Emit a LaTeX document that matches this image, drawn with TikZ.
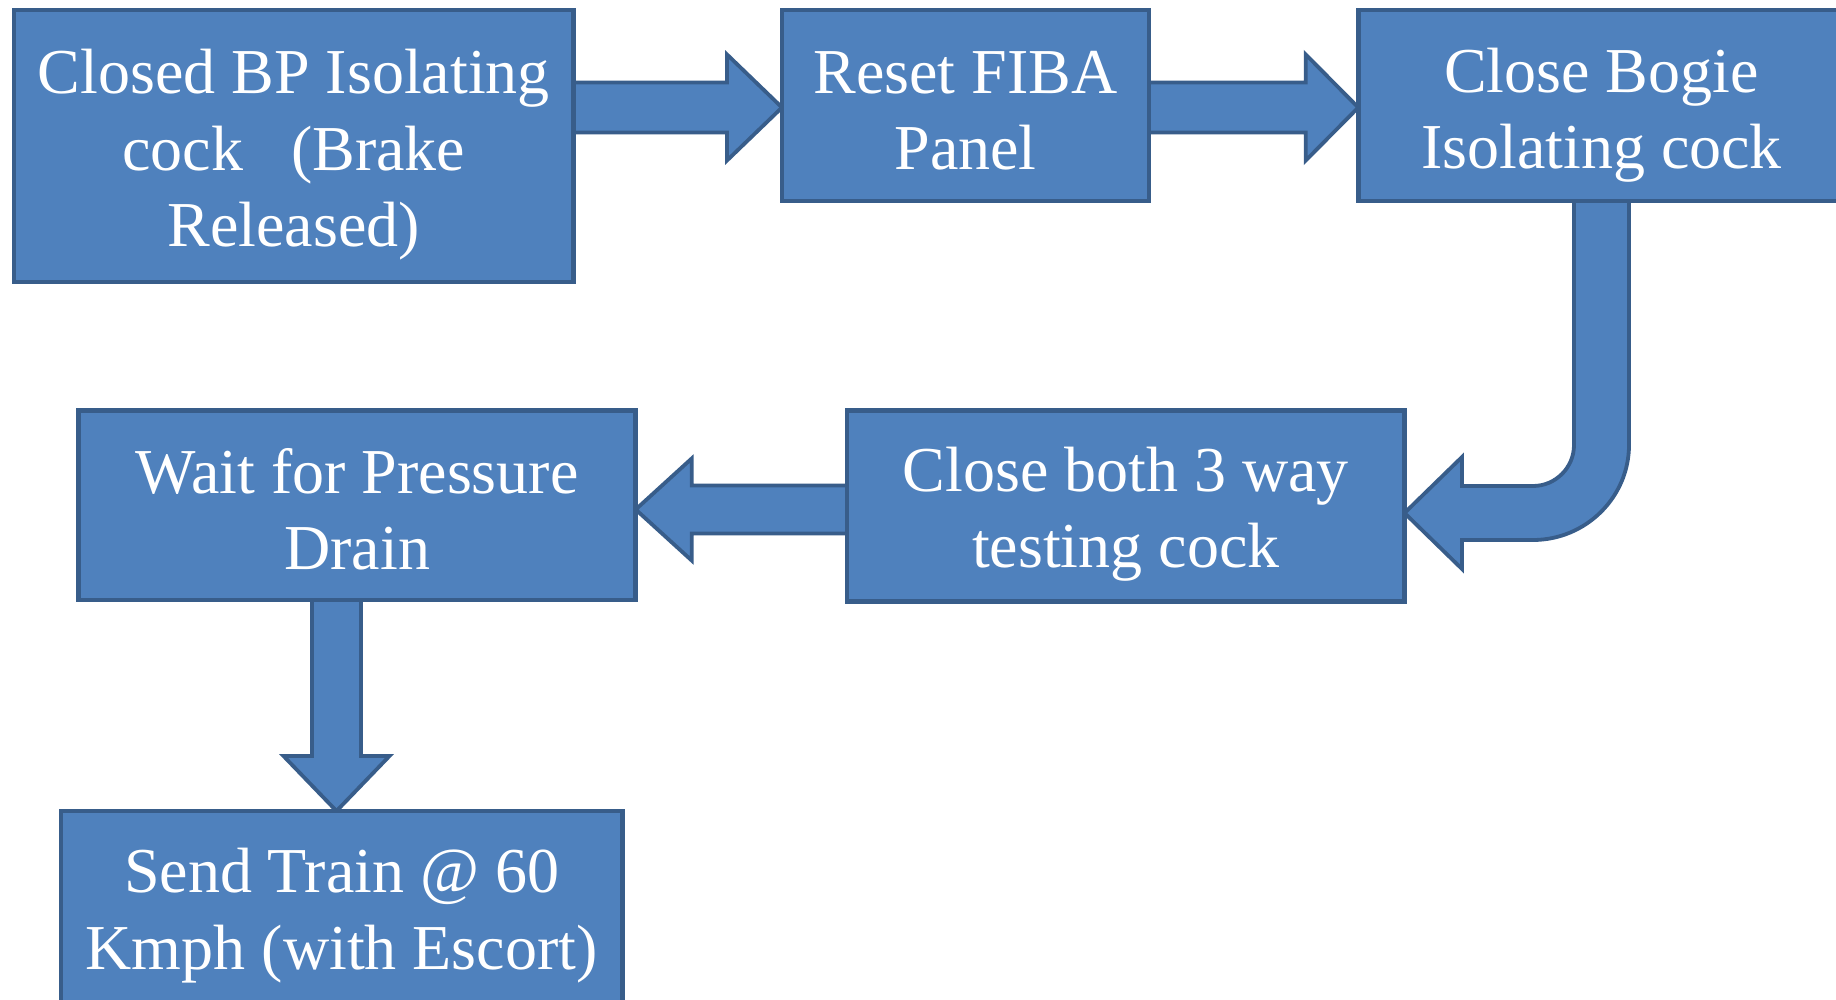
\documentclass[tikz,border=0pt]{standalone}
\usepackage{fontspec}
\setmainfont{Liberation Serif}
\usetikzlibrary{calc}
\definecolor{boxfill}{HTML}{4F81BD}
\definecolor{boxline}{HTML}{385D8A}
\pgfdeclarelayer{back}
\pgfdeclarelayer{bg}
\pgfsetlayers{back,bg,main}
\tikzset{
  box/.style={rectangle, draw=boxline, fill=boxfill, line width=2.25pt, inner sep=0pt, outer sep=0pt},
  txt/.style={text=white, align=center, inner sep=0pt, font=\fontsize{32pt}{38.25pt}\selectfont},
  blockarrow/.style={draw=boxline, fill=boxfill, line width=1.9pt, line join=miter}
}
% block arrows: tail, tip, shaft half, head half, head length
\newcommand\barrowR[5]{\draw[blockarrow] ($(#1)+(0,-#3)$) -- ($(#2)+(-#5,-#3)$) -- ($(#2)+(-#5,-#4)$) -- (#2) -- ($(#2)+(-#5,#4)$) -- ($(#2)+(-#5,#3)$) -- ($(#1)+(0,#3)$) -- cycle;}
\newcommand\barrowL[5]{\draw[blockarrow] ($(#1)+(0,-#3)$) -- ($(#2)+(#5,-#3)$) -- ($(#2)+(#5,-#4)$) -- (#2) -- ($(#2)+(#5,#4)$) -- ($(#2)+(#5,#3)$) -- ($(#1)+(0,#3)$) -- cycle;}
\newcommand\barrowD[5]{\draw[blockarrow] ($(#1)+(-#3,0)$) -- ($(#2)+(-#3,-#5)$) -- ($(#2)+(-#4,-#5)$) -- (#2) -- ($(#2)+(#4,-#5)$) -- ($(#2)+(#3,-#5)$) -- ($(#1)+(#3,0)$) -- cycle;}
\begin{document}
\begin{tikzpicture}[x=0.5pt,y=-0.5pt]
\clip (0,0) rectangle (1836,1000);
\begin{pgfonlayer}{back}
\fill[white] (0,0) rectangle (1836,1000);
\end{pgfonlayer}

\node[box, minimum width=279.75pt, minimum height=136pt,
  label={[txt,yshift=-4.5pt]center:{Closed BP Isolating\\cock\ \ \ (Brake\\Released)}}] (b1) at (293.75,146) {};
\node[box, minimum width=183.5pt, minimum height=95.5pt,
  label={[txt,yshift=-2.5pt]center:{Reset FIBA\\Panel}}] (b2) at (965.5,105.5) {};
\node[box, minimum width=243.25pt, minimum height=95.5pt,
  label={[txt,yshift=-4.8pt]center:{Close Bogie\\Isolating cock}}] (b3) at (1601.5,105.5) {};
\node[box, minimum width=278.75pt, minimum height=95.3pt,
  label={[txt,yshift=-4pt]center:{Close both 3 way\\testing cock}}] (b4) at (1125.75,506) {};
\node[box, minimum width=278.5pt, minimum height=94.75pt,
  label={[txt,yshift=-2pt]center:{Wait for Pressure\\Drain}}] (b5) at (357.2,505.3) {};
\node[box, minimum width=280.7pt, minimum height=95.5pt,
  label={[txt,yshift=-4.5pt]center:{Send Train @ 60\\Kmph (with Escort)}}] (b6) at (341.7,906.5) {};

\coordinate (h1) at (0,107.5);
\coordinate (h3) at (0,513);
\coordinate (h4) at (0,509.5);
\coordinate (v5) at (336.5,0);
\coordinate (c3) at (1533,445);

\begin{pgfonlayer}{bg}
\barrowR{b1.east |- h1}{b2.west |- h1}{25}{53}{55}
\barrowR{b2.east |- h1}{b3.west |- h1}{25}{53}{52.5}
\barrowL{b4.west |- h4}{b5.east |- h4}{24}{51}{56}
\barrowD{v5 |- b5.south}{v5 |- b6.north}{24.5}{53}{55}
\draw[blockarrow] ($(b3.south)+(-27.5,0)$) -- ($(c3)+(41,0)$)
  .. controls ($(c3)+(41,22.6)$) and ($(c3)+(22.6,41)$) .. ($(c3)+(0,41)$)
  -- ($(b4.east |- h3)+(57.5,-27)$) -- ($(b4.east |- h3)+(57.5,-56)$)
  -- (b4.east |- h3) -- ($(b4.east |- h3)+(57.5,56)$) -- ($(b4.east |- h3)+(57.5,27)$)
  -- ($(c3)+(0,95)$)
  .. controls ($(c3)+(52.5,95)$) and ($(c3)+(96,52.5)$) .. ($(c3)+(96,0)$)
  -- ($(b3.south)+(27.5,0)$) -- cycle;
\end{pgfonlayer}
\end{tikzpicture}
\end{document}
